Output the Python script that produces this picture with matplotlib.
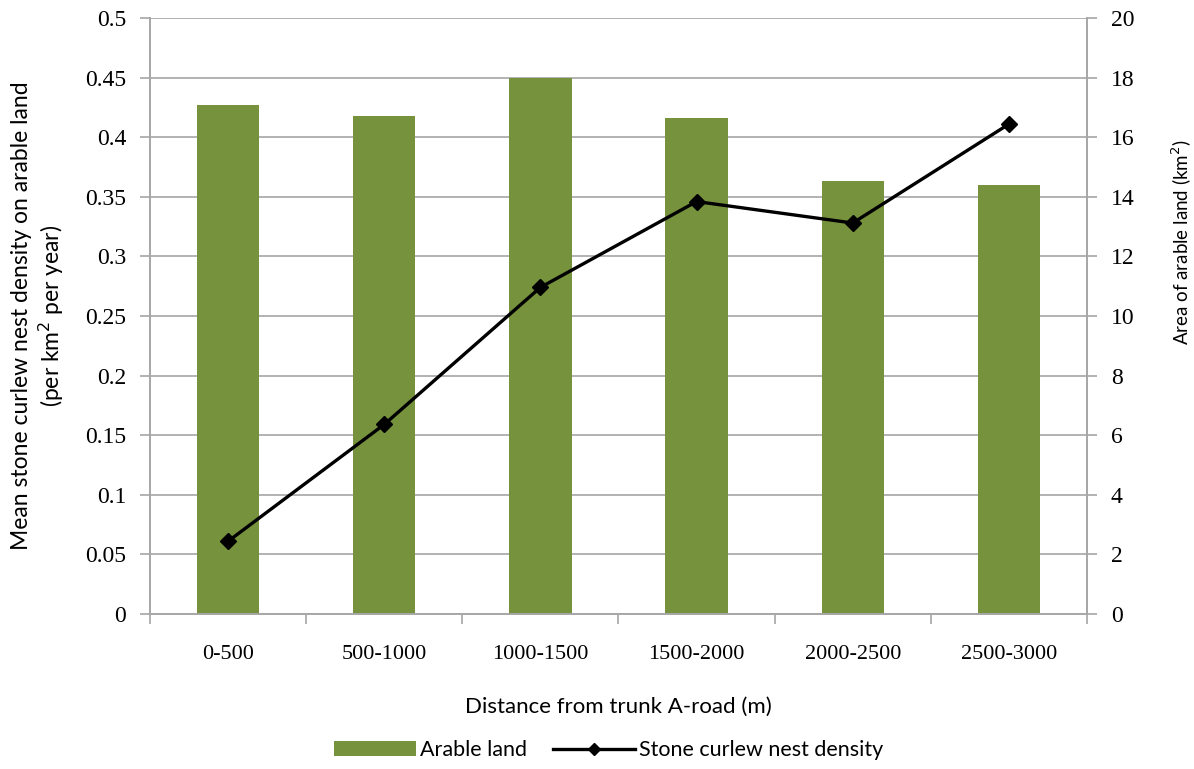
import matplotlib
matplotlib.use("Agg")
import matplotlib.pyplot as plt
from matplotlib.ticker import MultipleLocator, FormatStrFormatter

# data
categories = ["0-500", "500-1000", "1000-1500", "1500-2000", "2000-2500", "2500-3000"]
arable_area = [17.08, 16.7, 18.0, 16.66, 14.52, 14.38]      # km2, right axis
nest_density = [0.061, 0.159, 0.274, 0.346, 0.328, 0.411]  # per km2 per year, left axis

bar_color = "#76923C"
grid_color = "#A6A6A6"
serif = ["Liberation Serif", "DejaVu Serif"]
sans = ["Lato", "DejaVu Sans"]

fig = plt.figure(figsize=(11.94, 7.69), dpi=100)
ax = fig.add_axes([0.1256, 0.2016, 0.7848, 0.775])
ax2 = ax.twinx()

x = list(range(len(categories)))

# bars belong to the right axis, line to the left one
ax2.bar(x, arable_area, width=0.4, color=bar_color, zorder=2, label="Arable land")
ax.plot(x, nest_density, color="black", lw=2.4, marker="D", ms=8,
        zorder=3, label="Stone curlew nest density")

ax.set_zorder(ax2.get_zorder() + 1)
ax.patch.set_visible(False)

ax.set_xlim(-0.5, len(categories) - 0.5)
ax.set_ylim(0, 0.5)
ax2.set_ylim(0, 20)
ax.yaxis.set_major_locator(MultipleLocator(0.05))
ax.yaxis.set_major_formatter(FormatStrFormatter("%g"))
ax2.yaxis.set_major_locator(MultipleLocator(2))

for v in ax.get_yticks():
    if v > 0:
        ax2.axhline(v * 40, color=grid_color, lw=1.2, zorder=0)

ax.set_xticks(x)
ax.set_xticklabels(categories, fontsize=16, family=serif)
ax.set_xticks([i + 0.5 for i in range(-1, len(categories))], minor=True)
ax.tick_params(axis="x", which="major", length=0, pad=22)
ax.tick_params(axis="x", which="minor", length=7, color=grid_color, width=1.2)
ax.tick_params(axis="y", length=7, color=grid_color, width=1.2, labelsize=17, pad=10)
ax2.tick_params(axis="y", length=7, color=grid_color, width=1.2, labelsize=17, pad=10)
for lab in ax.get_yticklabels() + ax2.get_yticklabels():
    lab.set_family(serif)

for a in (ax, ax2):
    a.spines["top"].set_visible(False)
    for s in ("left", "right", "bottom"):
        a.spines[s].set_color(grid_color)
        a.spines[s].set_linewidth(1.2)

ax.set_ylabel("Mean stone curlew nest density on arable land\n(per km$^2$ per year)",
              fontsize=16.5, family=sans, linespacing=1.2)
ax.yaxis.set_label_coords(-0.09, 0.5)
ax2.set_ylabel("Area of arable land (km$^2$)", fontsize=13.5, family=sans)
ax2.yaxis.set_label_coords(1.088, 0.624)
ax.set_xlabel("Distance from trunk A-road (m)", fontsize=16, family=sans, labelpad=24)

h1, l1 = ax2.get_legend_handles_labels()
h2, l2 = ax.get_legend_handles_labels()
fig.legend(h1 + h2, l1 + l2, loc="lower center", bbox_to_anchor=(0.51, -0.014),
           ncol=2, frameon=False, prop={"family": sans, "size": 15.5},
           handlelength=3.8, columnspacing=1.2, handletextpad=0.2, markerscale=0.8)

fig.savefig("out.png", dpi=100)
